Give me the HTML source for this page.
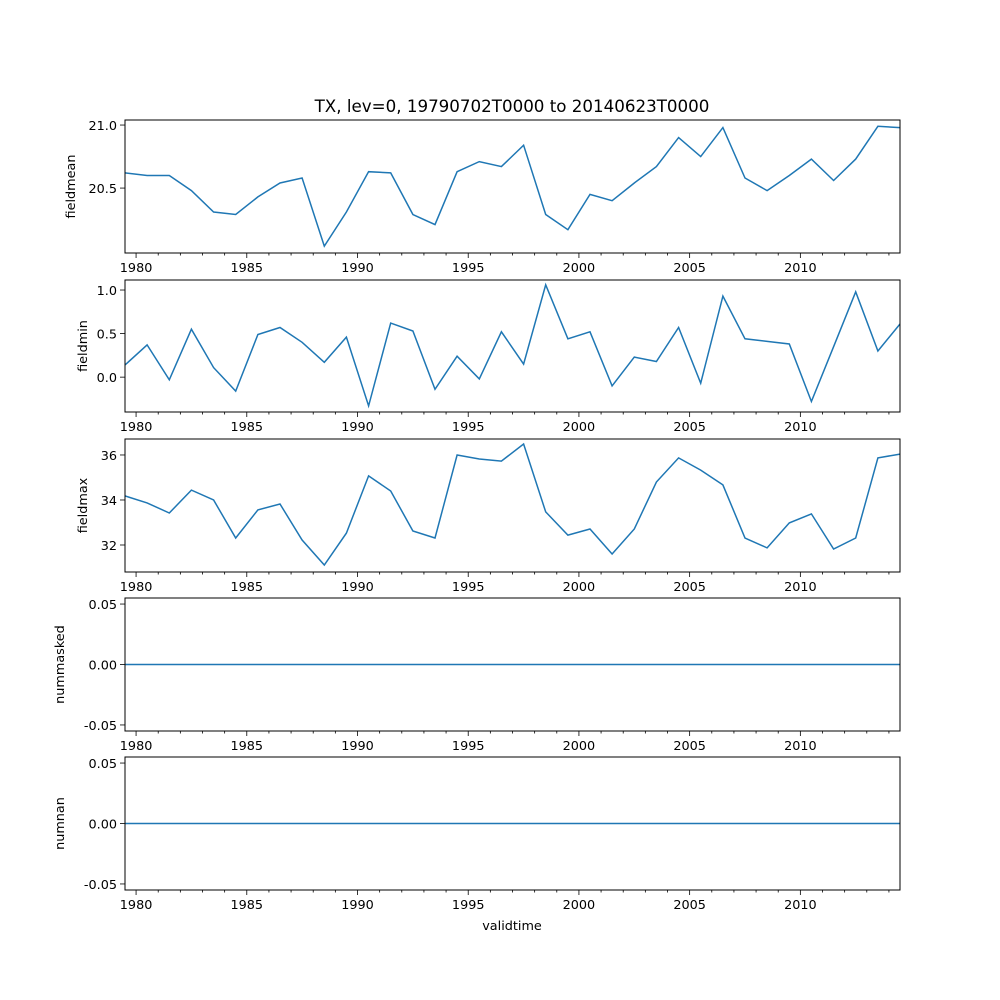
<!DOCTYPE html>
<html><head><meta charset="utf-8"><style>
html,body{margin:0;padding:0;background:#fff}
svg{display:block;font-family:"DejaVu Sans","Liberation Sans",sans-serif}
</style></head><body>
<svg id="fig" width="1000" height="1000" viewBox="0 0 1000 1000">
<text x="512" y="112" text-anchor="middle" font-size="16.7">TX, lev=0, 19790702T0000 to 20140623T0000</text>
<text x="512" y="930" text-anchor="middle" font-size="12.8">validtime</text>
</svg>
<script>
const years = [1979,1980,1981,1982,1983,1984,1985,1986,1987,1988,1989,1990,1991,1992,1993,1994,1995,1996,1997,1998,1999,2000,2001,2002,2003,2004,2005,2006,2007,2008,2009,2010,2011,2012,2013,2014];
const fieldmean = [20.62,20.60,20.60,20.48,20.31,20.29,20.43,20.54,20.58,20.04,20.31,20.63,20.62,20.29,20.21,20.63,20.71,20.67,20.84,20.29,20.17,20.45,20.40,20.54,20.67,20.90,20.75,20.98,20.58,20.48,20.60,20.73,20.56,20.73,20.99,20.98];
const fieldmin = [0.14,0.37,-0.03,0.55,0.11,-0.16,0.49,0.57,0.40,0.17,0.46,-0.33,0.62,0.53,-0.14,0.24,-0.02,0.52,0.15,1.06,0.44,0.52,-0.10,0.23,0.18,0.57,-0.07,0.93,0.44,0.41,0.38,-0.28,0.35,0.98,0.30,0.61];
const fieldmax = [34.18,33.87,33.42,34.44,34.0,32.31,33.56,33.82,32.22,31.11,32.53,35.07,34.4,32.62,32.31,36.0,35.82,35.73,36.49,33.47,32.44,32.71,31.6,32.71,34.8,35.87,35.33,34.67,32.31,31.87,32.98,33.38,31.82,32.31,35.87,36.04];
const nummasked = years.map(()=>0);
const numnan = years.map(()=>0);
const xTicks = [1980,1985,1990,1995,2000,2005,2010];

const svg = document.getElementById('fig');
const NS = 'http://www.w3.org/2000/svg';
const X0 = 125, X1 = 900, XMIN = 1979.5, XMAX = 2014.5;
const xs = v => X0 + (v - XMIN) / (XMAX - XMIN) * (X1 - X0);
function el(tag, attrs, parent){const e=document.createElementNS(NS,tag);for(const k in attrs)e.setAttribute(k,attrs[k]);(parent||svg).appendChild(e);return e;}

const panels = [
 {name:'fieldmean', data:fieldmean, top:120, bot:253, ymin:19.985, ymax:21.04, ticks:[20.5,21.0], fmt:v=>v.toFixed(1)},
 {name:'fieldmin', data:fieldmin, top:280, bot:412, ymin:-0.40, ymax:1.115, ticks:[0,0.5,1.0], fmt:v=>v.toFixed(1)},
 {name:'fieldmax', data:fieldmax, top:439, bot:572, ymin:30.8, ymax:36.71, ticks:[32,34,36], fmt:v=>String(v)},
 {name:'nummasked', data:nummasked, top:598, bot:731, ymin:-0.055, ymax:0.055, ticks:[-0.05,0,0.05], fmt:v=>v.toFixed(2)},
 {name:'numnan', data:numnan, top:757, bot:890, ymin:-0.055, ymax:0.055, ticks:[-0.05,0,0.05], fmt:v=>v.toFixed(2)}
];

panels.forEach(p=>{
  const g = el('g',{});
  
  
  const ys = v => p.bot - (v - p.ymin)/(p.ymax - p.ymin)*(p.bot - p.top);
  const pts = years.map((y,i)=>xs(y+0.5).toFixed(1)+','+ys(p.data[i]).toFixed(1)).join(' ');
  const line = el('polyline',{points:pts,fill:'none',stroke:'#1f77b4','stroke-width':1.5},g);
  
  
  const frame = el('rect',{x:X0,y:p.top,width:X1-X0,height:p.bot-p.top,fill:'none',stroke:'#000','stroke-width':1},g);
  
  
  for(let y=1980;y<=2014;y++){
    if(xTicks.indexOf(y)>=0) continue;
    el('line',{x1:xs(y),x2:xs(y),y1:p.bot,y2:p.bot+2.5,stroke:'#000','stroke-width':0.8},g);
  }
  xTicks.forEach(t=>{
    el('line',{x1:xs(t),x2:xs(t),y1:p.bot,y2:p.bot+5,stroke:'#000','stroke-width':0.8},g);
    const tx = el('text',{x:xs(t),y:p.bot+19,'text-anchor':'middle','font-size':12.8},g);
    tx.textContent = t;
    
    
  });
  p.ticks.forEach(t=>{
    const y = ys(t);
    el('line',{x1:X0-5,x2:X0,y1:y,y2:y,stroke:'#000','stroke-width':0.8},g);
    const tx = el('text',{x:X0-8,y:y+5,'text-anchor':'end','font-size':12.8},g);
    tx.textContent = p.fmt(t);
    
    
  });
  const cy = (p.top+p.bot)/2;
  const lx = p.name.startsWith('num') ? 64 : (p.name==='fieldmean'?75:87);
  const lab = el('text',{x:lx,y:cy,'text-anchor':'middle','font-size':12.8,transform:`rotate(-90 ${lx} ${cy})`},g);
  lab.textContent = p.name;
  
  
});
</script>
</body></html>
